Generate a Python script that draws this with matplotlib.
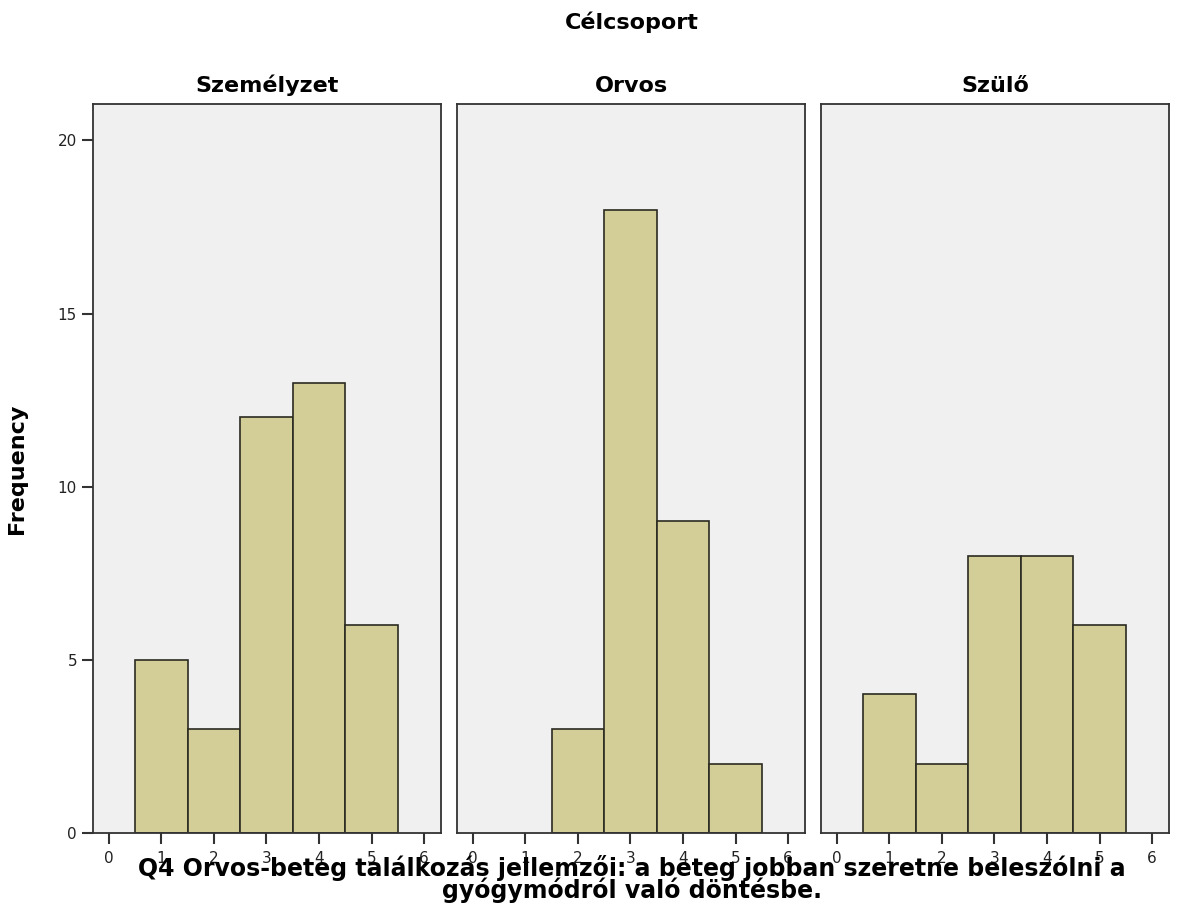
import matplotlib
matplotlib.use("Agg")
from matplotlib import pyplot as plt

# data
groups = ["Személyzet", "Orvos", "Szülő"]
scores = [1, 2, 3, 4, 5]
freq_szemelyzet = [5, 3, 12, 13, 6]
freq_orvos = [0, 3, 18, 9, 2]
freq_szulo = [4, 2, 8, 8, 6]
all_freqs = [freq_szemelyzet, freq_orvos, freq_szulo]
x_ticks = [0, 1, 2, 3, 4, 5, 6]
y_ticks = [0, 5, 10, 15, 20]

plt.rcParams['font.family'] = ['DejaVu Sans']

fig = plt.figure(figsize=(11.79, 9.24), dpi=100)
W, H = 1179, 924
lefts = [93, 457, 821]
pw = 348
top, bottom = 104, 833

for i, (name, freqs) in enumerate(zip(groups, all_freqs)):
    ax = fig.add_axes([lefts[i] / W, 1 - bottom / H, pw / W, (bottom - top) / H])
    ax.set_facecolor('#f0f0f0')
    xs = [x for x, f in zip(scores, freqs) if f > 0]
    hs = [f for f in freqs if f > 0]
    ax.bar(xs, hs, width=1.0, color='#d3ce97', edgecolor='#2b2b22', linewidth=1.2)
    ax.set_xlim(-0.3, 6.32)
    ax.set_ylim(0, 21.05)
    ax.set_xticks(x_ticks)
    ax.set_xticklabels([str(t) for t in x_ticks], fontsize=11, color='#222222')
    ax.tick_params(axis='x', direction='out', length=8, width=1.5, pad=5, color='#333333')
    for s in ax.spines.values():
        s.set_color('#333333')
        s.set_linewidth(1.3)
    if i == 0:
        ax.set_yticks(y_ticks)
        ax.set_yticklabels([str(t) for t in y_ticks], fontsize=11, color='#222222')
        ax.tick_params(axis='y', direction='out', length=8, width=1.5, color='#333333')
        ax.set_ylabel("Frequency", fontsize=16, fontweight='bold', labelpad=22)
    else:
        ax.set_yticks([])
    ax.set_title(name, fontsize=16, fontweight='bold', pad=9)

fig.text(0.5 * (93 + 1170) / W, 1 - 22 / H, "Célcsoport", ha='center', va='center',
         fontsize=16, fontweight='bold')
fig.text(0.5 * (93 + 1170) / W, 1 - 879 / H,
         "Q4 Orvos-beteg találkozás jellemzői: a beteg jobban szeretne beleszólni a\ngyógymódról való döntésbe.",
         ha='center', va='center', fontsize=17, fontweight='bold', linespacing=0.85)

fig.savefig("out.png", dpi=100)
